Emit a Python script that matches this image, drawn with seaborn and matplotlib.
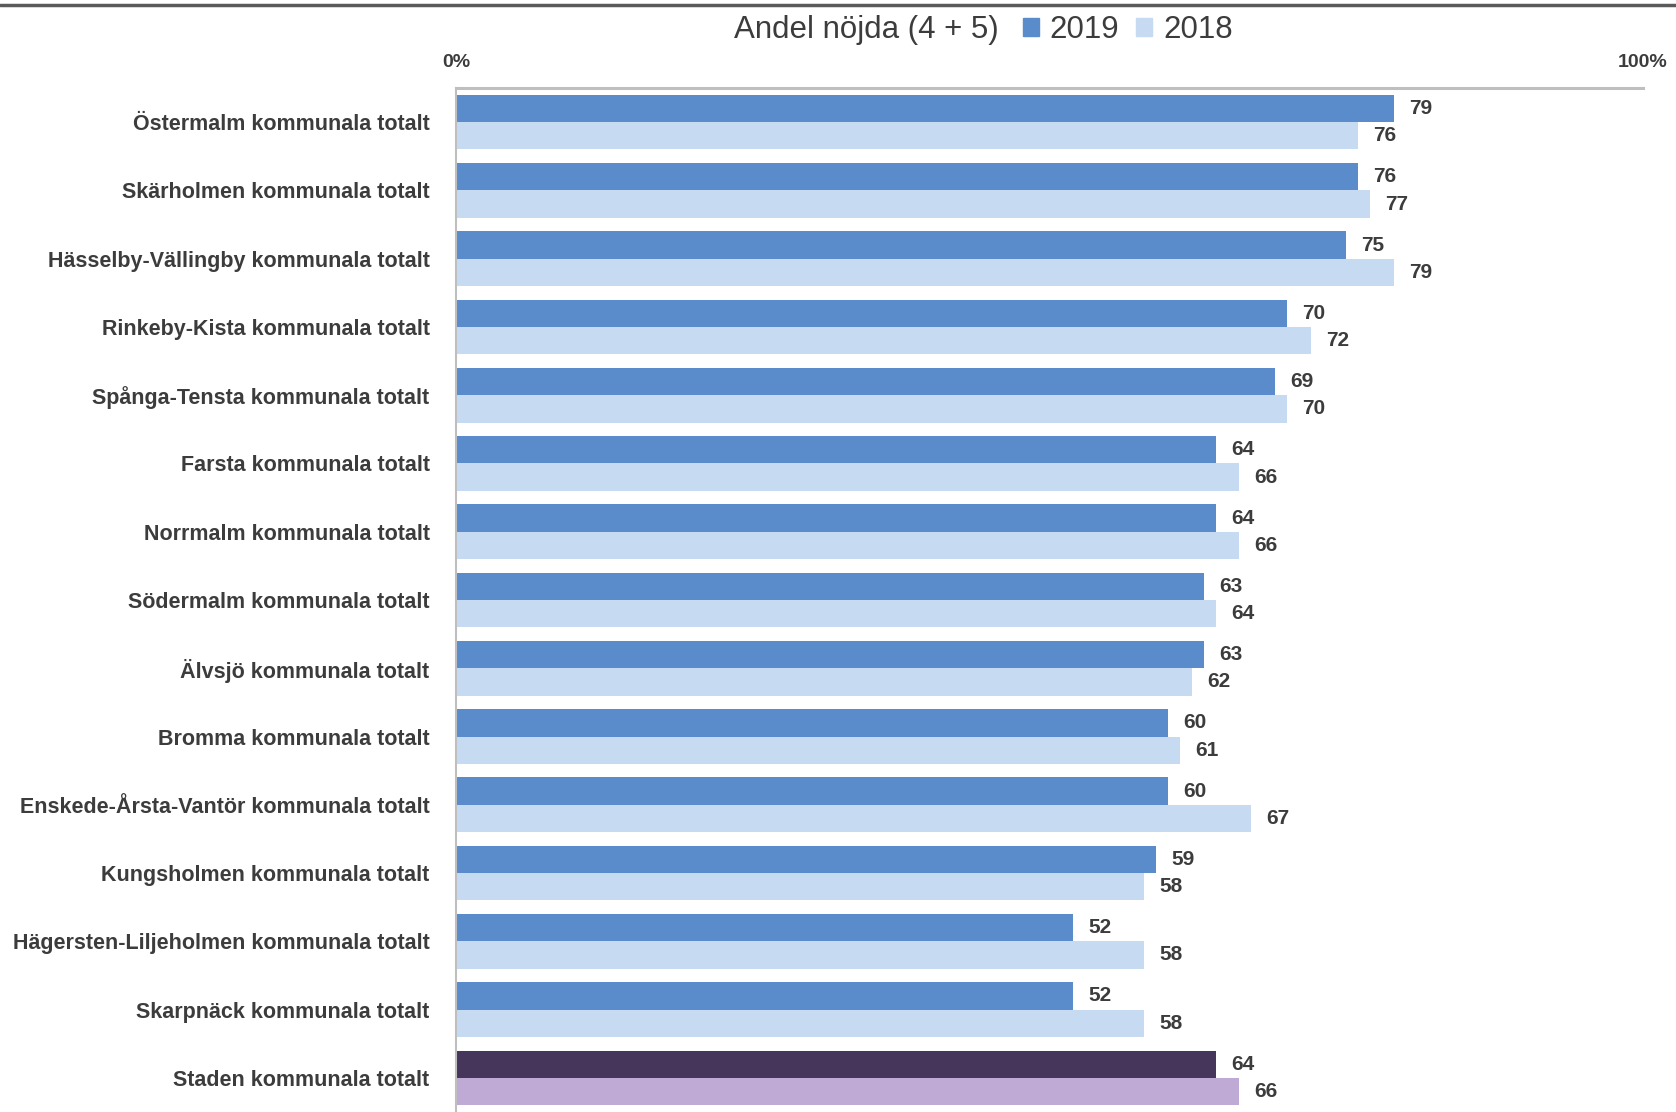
import numpy as np
import pandas as pd
import seaborn as sns
from matplotlib import pyplot as plt
from matplotlib.lines import Line2D
from matplotlib.patches import Patch

# districts, top to bottom
districts = ["Östermalm kommunala totalt", "Skärholmen kommunala totalt",
             "Hässelby-Vällingby kommunala totalt", "Rinkeby-Kista kommunala totalt",
             "Spånga-Tensta kommunala totalt", "Farsta kommunala totalt",
             "Norrmalm kommunala totalt", "Södermalm kommunala totalt",
             "Älvsjö kommunala totalt", "Bromma kommunala totalt",
             "Enskede-Årsta-Vantör kommunala totalt", "Kungsholmen kommunala totalt",
             "Hägersten-Liljeholmen kommunala totalt", "Skarpnäck kommunala totalt",
             "Staden kommunala totalt"]
andel_2019 = [79, 76, 75, 70, 69, 64, 64, 63, 63, 60, 60, 59, 52, 52, 64]
andel_2018 = [76, 77, 79, 72, 70, 66, 66, 64, 62, 61, 67, 58, 58, 58, 66]
years = ["2019", "2018"]

df = pd.DataFrame({
    "omrade": districts * 2,
    "andel": andel_2019 + andel_2018,
    "ar": [years[0]] * len(districts) + [years[1]] * len(districts),
})

blue_dark = "#5A8BCB"
blue_light = "#C6DAF2"
purple_dark = "#47365C"
purple_light = "#BEAAD4"
txt = "#3C3C3C"

sns.set_theme(style="white")
plt.rcParams["font.family"] = ["Liberation Sans", "DejaVu Sans"]

fig = plt.figure(figsize=(16.76, 11.12), dpi=100)
ax = fig.add_axes([456 / 1676, 0.0, (1643 - 456) / 1676, 1 - 88 / 1112])

sns.barplot(data=df, y="omrade", x="andel", hue="ar", hue_order=years,
            palette=[blue_dark, blue_light], orient="h", width=0.8,
            saturation=1, linewidth=0, ax=ax, legend=False)

# the city total gets its own colours
ax.containers[0].patches[-1].set_facecolor(purple_dark)
ax.containers[1].patches[-1].set_facecolor(purple_light)

for cont in ax.containers:
    ax.bar_label(cont, padding=11, fontsize=15, color=txt, fontweight="bold")

ax.set_xlim(0, 100)
ax.set_ylim(len(districts) - 0.5, -0.5)
ax.set_xlabel("")
ax.set_ylabel("")
ax.xaxis.tick_top()
ax.set_xticks([0, 100])
ax.set_xticklabels(["0%", "100%"], fontsize=14, color=txt, fontweight="bold")
ax.tick_params(axis="x", length=0, pad=12)
ax.tick_params(axis="y", which="major", length=0, pad=19, labelsize=15.5,
               labelcolor=txt)
for lab in ax.get_yticklabels():
    lab.set_fontweight("bold")
ax.set_yticks(np.arange(len(districts) - 1) + 0.5, minor=True)
ax.tick_params(axis="y", which="minor", length=5, width=1.2, color="#A6A6A6",
               direction="out")

for s in ["right", "bottom"]:
    ax.spines[s].set_visible(False)
ax.spines["top"].set_color("#BFBFBF")
ax.spines["top"].set_linewidth(2.2)
ax.spines["left"].set_color("#BFBFBF")
ax.spines["left"].set_linewidth(1.5)

# title with inline legend
fig.text(999 / 1676, 1 - 30 / 1112, "Andel nöjda (4 + 5)", ha="right",
         va="center", fontsize=22.5, color=txt)
handles = [Patch(color=blue_dark), Patch(color=blue_light)]
fig.legend(handles, years, loc="center left",
           bbox_to_anchor=(1023 / 1676, 1 - 30 / 1112), ncol=2, frameon=False,
           fontsize=22.5, handlelength=0.5, handleheight=0.5, handletextpad=0.35,
           columnspacing=0.55, labelcolor=txt, borderpad=0, borderaxespad=0)

# dark rule along the top of the page
fig.add_artist(Line2D([0, 1], [1 - 5 / 1112] * 2, color="#5A5A5A", lw=2.5,
                      transform=fig.transFigure))

fig.savefig("out.png", dpi=100)
